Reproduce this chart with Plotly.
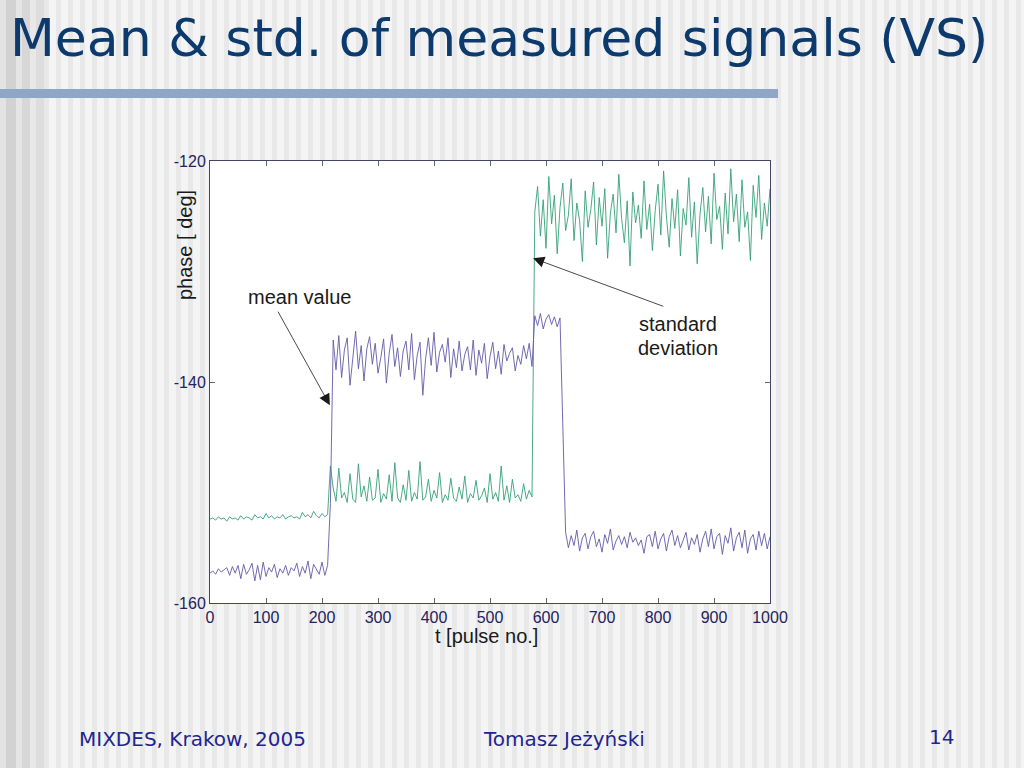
import plotly.graph_objects as go

# ---------------- data ----------------
t = list(range(0, 1001, 5))  # pulse number grid

mean_phase = [
    # t = 0 .. 210
    -157.3, -157.1, -157.4, -156.9, -157.2, -157.0, -156.8, -157.5, -156.7, -157.3,
    -156.6, -157.8, -156.5, -157.4, -157.0, -156.4, -158.0, -156.6, -157.9, -156.3,
    -157.6, -156.8, -157.2, -156.5, -157.7, -156.9, -157.3, -156.6, -157.5, -156.8,
    -157.1, -156.4, -157.6, -156.7, -157.3, -156.2, -157.8, -156.5, -156.9, -157.4,
    -156.3, -157.5, -156.6,
    # t = 215 (transition)
    -151.0,
    # t = 220 .. 575
    -136.2, -138.9, -135.8, -139.6, -137.1, -136.0, -140.3, -137.5, -135.4, -138.8,
    -136.7, -139.9, -137.0, -135.9, -138.4, -136.5, -139.2, -137.8, -136.1, -140.1,
    -137.4, -135.7, -138.6, -136.9, -139.5, -137.2, -136.3, -138.9, -135.6, -139.8,
    -137.6, -136.4, -141.2, -137.9, -136.0, -138.5, -135.5, -139.1, -137.3, -136.6,
    -138.2, -136.0, -139.6, -137.0, -138.7, -136.3, -139.0, -137.5, -136.8, -138.9,
    -136.2, -139.4, -137.1, -138.3, -136.5, -139.7, -137.7, -136.4, -138.8, -137.2,
    -139.3, -136.6, -138.1, -137.4, -136.9, -139.0, -137.6, -138.4, -136.7, -137.9,
    -136.5, -138.6,
    # t = 580 .. 625
    -134.0, -134.9, -133.8, -135.2, -134.3, -133.9, -134.8, -134.1, -135.0, -134.2,
    # t = 630 (drop)
    -144.8,
    # t = 635 .. 1000
    -153.6, -155.0, -153.9, -154.8, -153.4, -155.3, -154.1, -153.7, -155.1, -154.0,
    -153.5, -154.9, -154.2, -155.4, -153.8, -154.6, -153.3, -155.2, -154.4, -153.9,
    -154.7, -154.0, -155.0, -153.6, -154.5, -154.1, -154.8, -154.3, -155.5, -154.0,
    -153.8, -154.9, -153.5, -155.1, -154.2, -153.7, -155.3, -154.0, -153.4, -154.8,
    -153.9, -155.0, -154.3, -153.6, -155.2, -154.1, -154.7, -153.8, -155.4, -154.2,
    -153.5, -154.9, -153.3, -155.1, -154.0, -153.7, -155.6, -153.9, -154.6, -153.2,
    -155.3, -154.1, -153.6, -155.0, -153.4, -155.5, -154.2, -153.8, -155.2, -153.5,
    -154.8, -153.7, -155.1, -154.0,
]

std_phase = [
    # t = 0 .. 210
    -152.4, -152.3, -152.5, -152.2, -152.4, -152.3, -152.6, -152.2, -152.4, -152.3,
    -152.5, -152.1, -152.4, -152.2, -152.3, -152.5, -152.0, -152.3, -152.2, -152.4,
    -151.9, -152.3, -152.1, -152.4, -152.2, -152.3, -152.0, -152.4, -152.2, -152.1,
    -152.3, -152.2, -152.4, -151.8, -152.2, -152.0, -152.3, -151.7, -152.1, -152.3,
    -151.9, -152.2, -152.0,
    # t = 215
    -147.6,
    # t = 220 .. 575
    -149.6, -150.8, -147.8, -150.5, -150.0, -150.9, -148.3, -150.6, -150.9, -147.4,
    -150.4, -149.4, -150.8, -148.6, -150.7, -150.5, -147.9, -150.9, -150.1, -150.6,
    -148.4, -150.8, -147.3, -150.5, -150.9, -149.3, -150.7, -148.0, -150.8, -150.0,
    -150.6, -147.2, -150.7, -150.4, -148.8, -150.8, -149.8, -150.5, -148.2, -150.9,
    -150.2, -150.7, -148.7, -150.5, -150.8, -149.5, -150.6, -148.5, -150.9, -150.1,
    -150.5, -148.9, -150.7, -150.3, -149.6, -150.9, -148.3, -150.6, -150.0, -150.8,
    -147.6, -150.7, -149.4, -150.9, -148.8, -150.5, -150.2, -150.8, -149.2, -150.6,
    -149.8, -150.4,
    # t = 580 .. 1000
    -124.6, -122.3, -126.8, -123.5, -127.9, -121.4, -125.7, -123.1, -128.4, -124.2,
    -122.0, -126.3, -124.9, -121.6, -127.2, -123.8, -125.4, -129.1, -122.7, -126.0,
    -124.4, -121.9, -127.6, -123.3, -125.9, -122.5, -128.8, -124.7, -123.0, -126.5,
    -121.2, -125.2, -127.4, -123.6, -129.5, -122.8, -125.6, -124.0, -127.0, -121.8,
    -126.2, -123.9, -128.1, -124.5, -122.1, -126.7, -120.9, -125.0, -127.8, -123.4,
    -126.1, -122.6, -128.6, -124.3, -125.8, -121.5, -126.9, -123.7, -129.3, -124.8,
    -122.4, -126.4, -123.2, -127.5, -121.1, -125.3, -124.1, -128.0, -122.9, -126.6,
    -120.7, -125.5, -123.0, -127.3, -121.7, -126.0, -124.6, -129.0, -122.2, -125.1,
    -121.3, -127.1, -123.8, -125.9, -122.5,
]

x_ticks = [0, 100, 200, 300, 400, 500, 600, 700, 800, 900, 1000]
x_tick_labels = ["0", "100", "200", "300", "400", "500", "600", "700", "800", "900", "1000"]
y_ticks = [-160, -140, -120]
y_tick_labels = ["-160", "-140", "-120"]

title_text = "Mean &amp; std. of measured signals (VS)"
footer_left = "MIXDES, Krakow, 2005"
footer_mid = "Tomasz Jeżyński"
footer_right = "14"

# ---------------- layout helpers ----------------
W, H = 1024, 768
L, R, T, B = 210, 770, 161, 603


def px(xp):
    return (xp - L) / (R - L)


def py(yp):
    return (B - yp) / (B - T)


fig = go.Figure()
fig.add_trace(go.Scatter(x=t, y=std_phase, mode="lines",
                         line=dict(color="#35a078", width=0.9), hoverinfo="skip"))
fig.add_trace(go.Scatter(x=t, y=mean_phase, mode="lines",
                         line=dict(color="#625aa8", width=0.9), hoverinfo="skip"))

# striped slide background
shapes = []
left_stripes = [(0, 6, "#e3e3e3"), (6, 16, "#d2d2d2"), (16, 22, "#e5e5e5"),
                (22, 30, "#d7d7d7"), (30, 36, "#e8e8e8"), (36, 44, "#dddddd")]
for a, b, c in left_stripes:
    shapes.append(dict(type="rect", xref="paper", yref="paper", x0=px(a), x1=px(b),
                       y0=py(H), y1=py(0), fillcolor=c, line=dict(width=0), layer="below"))
xs = 44
while xs < W:
    shapes.append(dict(type="rect", xref="paper", yref="paper", x0=px(xs), x1=px(xs + 5),
                       y0=py(H), y1=py(0), fillcolor="#e8e8e8", line=dict(width=0), layer="below"))
    xs += 12
# white plot area over the stripes
shapes.append(dict(type="rect", xref="paper", yref="paper", x0=0, x1=1, y0=0, y1=1,
                   fillcolor="white", line=dict(width=0), layer="below"))
# blue title bar
shapes.append(dict(type="rect", xref="paper", yref="paper", x0=px(0), x1=px(778),
                   y0=py(98), y1=py(89), fillcolor="#8ea7c6", line=dict(width=0), layer="below"))

ann = []
ann.append(dict(text=title_text, xref="paper", yref="paper", x=px(8), y=py(38),
                xanchor="left", yanchor="middle", showarrow=False,
                font=dict(family="DejaVu Sans", size=52, color="#0c3a6c")))
foot_font = dict(family="DejaVu Sans", size=20, color="#1f2590")
ann.append(dict(text=footer_left, xref="paper", yref="paper", x=px(77), y=py(739),
                xanchor="left", yanchor="middle", showarrow=False, font=foot_font))
ann.append(dict(text=footer_mid, xref="paper", yref="paper", x=px(564), y=py(739),
                xanchor="center", yanchor="middle", showarrow=False, font=foot_font))
ann.append(dict(text=footer_right, xref="paper", yref="paper", x=px(941), y=py(737),
                xanchor="center", yanchor="middle", showarrow=False, font=foot_font))

txt_font = dict(family="Liberation Sans, Arial", size=20, color="#1a1a1a")
ann.append(dict(text="t [pulse no.]", xref="paper", yref="paper", x=px(486), y=py(636),
                xanchor="center", yanchor="middle", showarrow=False, font=txt_font))
ann.append(dict(text="phase [ deg]", xref="paper", yref="paper", x=px(185), y=py(245),
                xanchor="center", yanchor="middle", showarrow=False, textangle=-90, font=txt_font))

ann.append(dict(text="mean value", xref="x", yref="y", x=159, y=-132.3,
                xanchor="center", yanchor="middle", showarrow=False, font=txt_font))
ann.append(dict(text="standard", xref="x", yref="y", x=836, y=-134.75,
                xanchor="center", yanchor="middle", showarrow=False, font=txt_font))
ann.append(dict(text="deviation", xref="x", yref="y", x=836, y=-136.9,
                xanchor="center", yanchor="middle", showarrow=False, font=txt_font))

# arrows
ann.append(dict(text="", x=214, y=-142.1, xref="x", yref="y", ax=120, ay=-133.5,
                axref="x", ayref="y", showarrow=True, arrowhead=2, arrowsize=2.8,
                arrowwidth=0.8, arrowcolor="#1a1a1a"))
ann.append(dict(text="", x=577, y=-128.8, xref="x", yref="y", ax=812, ay=-133.2,
                axref="x", ayref="y", showarrow=True, arrowhead=2, arrowsize=2.8,
                arrowwidth=0.8, arrowcolor="#1a1a1a"))

axis_common = dict(showgrid=False, zeroline=False, showline=True, linecolor="#45456a",
                   linewidth=1, mirror="ticks", ticks="inside", ticklen=5,
                   tickcolor="#666677", tickwidth=1,
                   tickfont=dict(family="Liberation Sans, Arial", size=16, color="#23235e"))

fig.update_layout(
    width=W, height=H, autosize=False,
    margin=dict(l=L, r=W - R, t=T, b=H - B, pad=0),
    paper_bgcolor="#f4f4f4", plot_bgcolor="white",
    showlegend=False, shapes=shapes, annotations=ann,
    xaxis=dict(range=[0, 1000], tickvals=x_ticks, ticktext=x_tick_labels, **axis_common),
    yaxis=dict(range=[-160, -120], tickvals=y_ticks, ticktext=y_tick_labels, **axis_common),
)

fig.write_html("out.html", config={"displayModeBar": False},
               post_script="document.body.style.margin='0';document.body.style.overflow='hidden';")
